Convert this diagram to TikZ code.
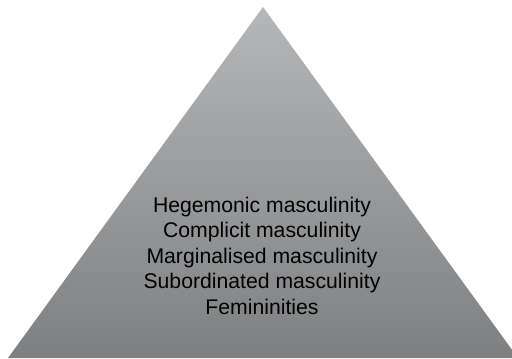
\documentclass[tikz,border=0pt]{standalone}
\usepackage{fontspec}
\setmainfont{Liberation Sans}
\usetikzlibrary{positioning}
\definecolor{PeakGrey}{RGB}{182,183,185}
\definecolor{BaseGrey}{RGB}{126,127,129}

\begin{document}
\begin{tikzpicture}[
    x=1bp,y=1bp,
    pyramid/.style={
      top color=PeakGrey,bottom color=BaseGrey,draw=none
    },
    tiers/.style={
      align=center,inner sep=0pt,
      font=\fontsize{21.2bp}{25.5bp}\selectfont
    }]
    \useasboundingbox (0,0) rectangle (512,358);
    \clip (0,0) rectangle (512,358);
    \coordinate (apex) at (263,351);
    \coordinate (left) at (8,0);
    \coordinate (right) at (518,0);
    \path[pyramid] (apex)--(right)--(left)--cycle;
    % last line sits on the base anchor
    \node[tiers,anchor=base] (list) at (262,44) {Hegemonic masculinity\\
      Complicit masculinity\\Marginalised masculinity\\
      Subordinated masculinity\\Femininities};
  \end{tikzpicture}
\end{document}
